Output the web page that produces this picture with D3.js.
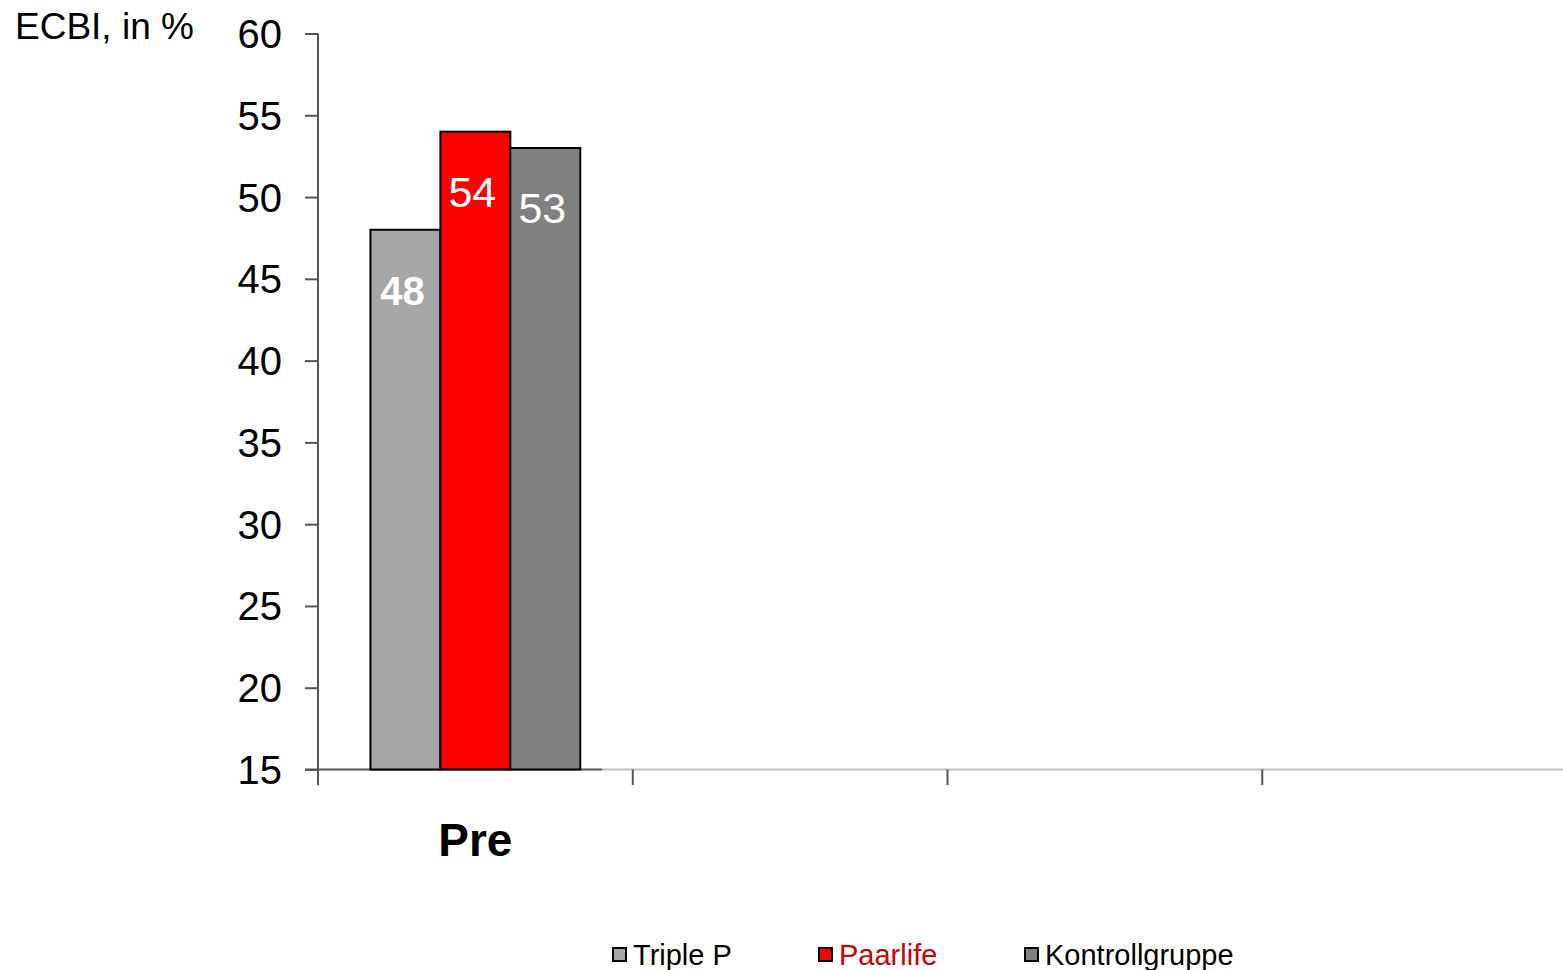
<!DOCTYPE html>
<html><head><meta charset="utf-8">
<script src="https://cdn.jsdelivr.net/npm/d3@7"></script>
<style>html,body{margin:0;padding:0;background:#fff;}svg{display:block;font-family:"Liberation Sans",Arial,sans-serif;}</style>
</head><body>
<svg id="c" width="1563" height="970"></svg>
<script>
const categoryLabels = ["Pre", "", "", ""];
const seriesNames = ["Triple P", "Paarlife", "Kontrollgruppe"];
const tripleP = [48];
const paarlife = [54];
const kontroll = [53];
const yTicks = [15, 20, 25, 30, 35, 40, 45, 50, 55, 60];
const yTitle = "ECBI, in %";

const colors = ["#a6a6a6", "#ff0000", "#808080"];
const series = [tripleP, paarlife, kontroll];

const svg = d3.select("#c");
const y = d3.scaleLinear().domain([15, 60]).range([769.5, 33.5]);
const x = d3.scaleBand().domain(d3.range(categoryLabels.length)).range([318, 1577]);
const inner = d3.scaleBand().domain(d3.range(series.length)).range([0, x.bandwidth()]).paddingOuter(0.75).paddingInner(0);

// x baseline (light continuation)
svg.append("line").attr("x1", 602).attr("x2", 1563).attr("y1", y(15)).attr("y2", y(15))
  .attr("stroke", "#c0c0c0").attr("stroke-width", 2);
svg.append("line").attr("x1", 305).attr("x2", 602).attr("y1", y(15)).attr("y2", y(15))
  .attr("stroke", "#555").attr("stroke-width", 2);

// y axis
const yAxis = svg.append("g").attr("transform", "translate(318,0)")
  .call(d3.axisLeft(y).tickValues(yTicks).tickSize(13).tickPadding(23));
yAxis.select(".domain").remove();
yAxis.selectAll(".tick line").attr("stroke", "#555").attr("stroke-width", 2);
yAxis.selectAll(".tick text").attr("font-size", 40).attr("fill", "#000")
  .attr("font-family", "'Liberation Sans',Arial,sans-serif").attr("dy", "0.35em");
svg.append("line").attr("x1", 318).attr("x2", 318).attr("y1", y(60)).attr("y2", 785)
  .attr("stroke", "#555").attr("stroke-width", 2);

// x ticks at band boundaries
svg.append("g").selectAll("line").data(x.domain()).join("line")
  .attr("x1", d => x(d)).attr("x2", d => x(d)).attr("y1", y(15)).attr("y2", 785)
  .attr("stroke", "#555").attr("stroke-width", 2);

// x labels
svg.append("g").selectAll("text").data(x.domain()).join("text")
  .attr("x", d => x(d) + x.bandwidth() / 2).attr("y", 856)
  .attr("text-anchor", "middle").attr("font-size", 46).attr("font-weight", "bold")
  .text(d => categoryLabels[d]);

// bars
series.forEach((vals, si) => {
  const g = svg.append("g");
  g.selectAll("rect").data(vals).join("rect")
    .attr("x", (d, i) => x(i) + inner(si))
    .attr("width", inner.bandwidth())
    .attr("y", d => y(d))
    .attr("height", d => y(15) - y(d))
    .attr("fill", colors[si]).attr("stroke", "#000").attr("stroke-width", 2);
  g.selectAll("text").data(vals).join("text")
    .attr("x", (d, i) => x(i) + inner(si) + inner.bandwidth() / 2 - 3)
    .attr("y", d => y(d) + 75)
    .attr("text-anchor", "middle").attr("fill", "#fff")
    .attr("font-size", si === 0 ? 40 : 43).attr("font-weight", si === 0 ? "bold" : "normal")
    .text(d => d);
});

// y title
svg.append("text").attr("x", 15).attr("y", 39).attr("font-size", 37).attr("fill", "#000").text(yTitle);

// legend
const legX = [612, 818, 1024];
const lg = svg.append("g");
seriesNames.forEach((n, i) => {
  lg.append("rect").attr("x", legX[i] + 1).attr("y", 948).attr("width", 13).attr("height", 13)
    .attr("fill", colors[i]).attr("stroke", "#000").attr("stroke-width", 2);
  lg.append("text").attr("x", legX[i] + 21).attr("y", 965).attr("font-size", 29)
    .attr("fill", i === 1 ? "#cc0000" : "#000").text(n);
});
</script>
</body></html>
